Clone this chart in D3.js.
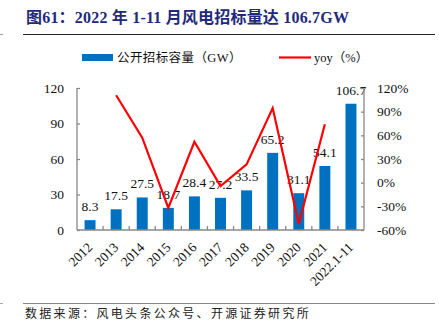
<!DOCTYPE html>
<html>
<head>
<meta charset="utf-8">
<script src="https://cdn.jsdelivr.net/npm/d3@7"></script>
<style>
  html, body { margin: 0; padding: 0; background: #fff; }
  svg { display: block; }
</style>
</head>
<body>
<svg id="chart" width="439" height="325"></svg>
<script>
// Wind power public tender capacity (GW) and its year-on-year change (%)
const years = ["2012", "2013", "2014", "2015", "2016", "2017", "2018", "2019", "2020", "2021", "2022.1-11"];
const capacity = [8.3, 17.5, 27.5, 18.7, 28.4, 27.2, 33.5, 65.2, 31.1, 54.1, 106.7];
const yoyYears = ["2013", "2014", "2015", "2016", "2017", "2018", "2019", "2020", "2021"];
const yoy = [110.8, 57.1, -32.0, 51.9, -4.2, 23.2, 94.6, -52.3, 74.0];
const leftTicks = [0, 30, 60, 90, 120];
const rightTicks = [-60, -30, 0, 30, 60, 90, 120];

const svg = d3.select("#chart");
const serif = "'Liberation Serif', 'Times New Roman', 'Noto Sans CJK SC', serif";
const cjk = "'Noto Sans CJK SC', sans-serif";

// Title and rules
svg.append("text")
  .attr("x", 26).attr("y", 23)
  .attr("fill", "#1F2A7C")
  .attr("font-family", serif)
  .attr("font-weight", "bold")
  .attr("font-size", 16)
  .attr("letter-spacing", 0.2)
  .text("图61：2022 年 1-11 月风电招标量达 106.7GW");
svg.append("line").attr("x1", 23).attr("x2", 435).attr("y1", 34.5).attr("y2", 34.5)
  .attr("stroke", "#222").attr("stroke-width", 1);
svg.append("line").attr("x1", 0).attr("x2", 3).attr("y1", 34.5).attr("y2", 34.5)
  .attr("stroke", "#999").attr("stroke-width", 1);
svg.append("line").attr("x1", 23).attr("x2", 435).attr("y1", 303.5).attr("y2", 303.5)
  .attr("stroke", "#888").attr("stroke-width", 1);
svg.append("line").attr("x1", 0).attr("x2", 3).attr("y1", 303.5).attr("y2", 303.5)
  .attr("stroke", "#aaa").attr("stroke-width", 1);
svg.append("text")
  .attr("x", 25).attr("y", 318)
  .attr("fill", "#222")
  .attr("font-family", cjk)
  .attr("font-size", 12)
  .attr("letter-spacing", 2.3)
  .text("数据来源：风电头条公众号、开源证券研究所");

// Plot area
const plotL = 77, plotR = 364, plotT = 88, plotB = 230;
const x = d3.scaleBand().domain(years).range([plotL, plotR]).paddingInner(0.58).paddingOuter(0.29);
const xb = d3.scaleBand().domain(years).range([plotL, plotR]);
const yL = d3.scaleLinear().domain([0, 120]).range([plotB, plotT]);
const yR = d3.scaleLinear().domain([-60, 120]).range([plotB, plotT]);

// Bars
svg.append("g").selectAll("rect").data(capacity).join("rect")
  .attr("x", (d, i) => x(years[i]))
  .attr("width", x.bandwidth())
  .attr("y", d => yL(d))
  .attr("height", d => yL(0) - yL(d))
  .attr("fill", "#0070C0");

// Bar value labels
svg.append("g").selectAll("text").data(capacity).join("text")
  .attr("x", (d, i) => xb(years[i]) + xb.bandwidth() / 2)
  .attr("y", d => yL(d) - 9)
  .attr("text-anchor", "middle")
  .attr("font-family", serif)
  .attr("font-size", 13.5)
  .attr("fill", "#111")
  .text(d => d.toFixed(1));

// YoY line
const line = d3.line()
  .x((d, i) => xb(yoyYears[i]) + xb.bandwidth() / 2)
  .y(d => yR(d));
svg.append("path").datum(yoy)
  .attr("d", line)
  .attr("fill", "none")
  .attr("stroke", "#FF0000")
  .attr("stroke-width", 2.2)
  .attr("stroke-linejoin", "miter");

// Axes
const axisColor = "#888";
const gL = svg.append("g").attr("transform", `translate(${plotL},0)`)
  .call(d3.axisLeft(yL).tickValues(leftTicks).tickSize(-3).tickPadding(13).tickFormat(d3.format("d")));
const gR = svg.append("g").attr("transform", `translate(${plotR},0)`)
  .call(d3.axisRight(yR).tickValues(rightTicks).tickSize(-3).tickPadding(13).tickFormat(d => d + "%"));
const gX = svg.append("g").attr("transform", `translate(0,${plotB})`)
  .call(d3.axisBottom(xb).tickSize(0).tickFormat(d => d));

[gL, gR, gX].forEach(g => {
  g.select(".domain").attr("stroke", axisColor).attr("stroke-width", 1.3);
  g.selectAll(".tick line").attr("stroke", axisColor).attr("stroke-width", 1.3);
  g.selectAll("text").attr("font-family", serif).attr("font-size", 13.5).attr("fill", "#111");
});
gL.select(".domain").attr("d", `M0,${plotT}V${plotB}`);
gR.select(".domain").attr("d", `M0,${plotT}V${plotB}`);
gX.select(".domain").attr("d", `M${plotL},0H${plotR}`);

// Category tick marks sit on band boundaries and point upward
gX.selectAll(".tickmark").data(years.slice(1)).join("line")
  .attr("class", "tickmark")
  .attr("x1", d => xb(d)).attr("x2", d => xb(d))
  .attr("y1", 0).attr("y2", -4)
  .attr("stroke", axisColor).attr("stroke-width", 1.3);

// Rotated category labels
gX.selectAll(".tick text")
  .attr("text-anchor", "end")
  .attr("dx", 0).attr("dy", 0)
  .attr("transform", "translate(1,16) rotate(-45)");

// Legend
const lg = svg.append("g");
lg.append("rect").attr("x", 82).attr("y", 54).attr("width", 31).attr("height", 7).attr("fill", "#0070C0");
lg.append("text").attr("x", 117).attr("y", 62)
  .attr("font-family", serif).attr("font-size", 12.5).attr("fill", "#111")
  .attr("letter-spacing", 0.4)
  .text("公开招标容量（GW）");
lg.append("line").attr("x1", 279).attr("x2", 311).attr("y1", 57.5).attr("y2", 57.5)
  .attr("stroke", "#FF0000").attr("stroke-width", 2.2);
lg.append("text").attr("x", 314).attr("y", 62)
  .attr("font-family", serif).attr("font-size", 12.5).attr("fill", "#111")
  .text("yoy（%）");
</script>
</body>
</html>
